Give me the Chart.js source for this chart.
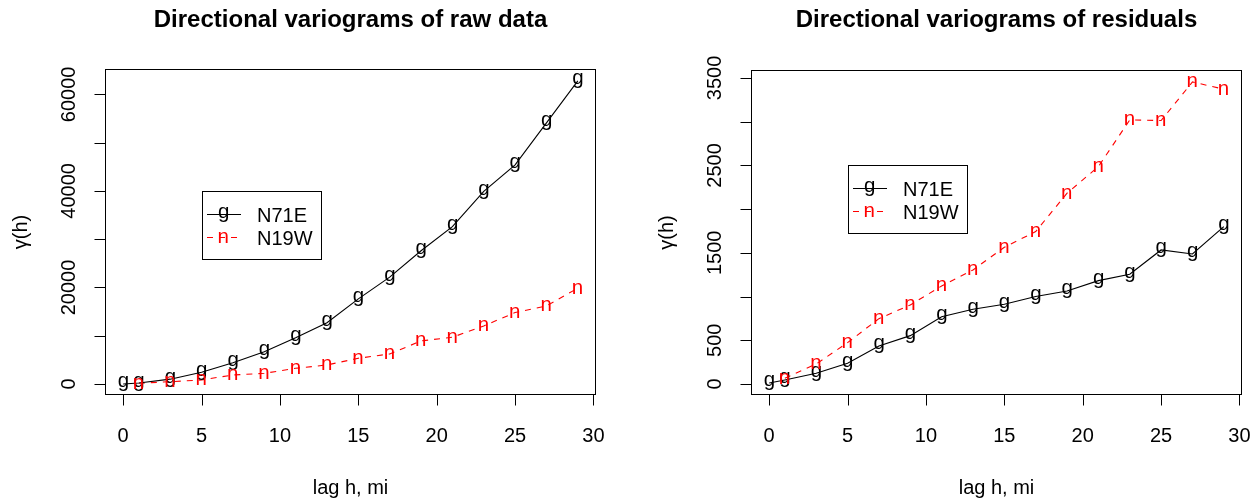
<!DOCTYPE html>
<html><head><meta charset="utf-8">
<script src="https://cdn.jsdelivr.net/npm/chart.js@4.4.0/dist/chart.umd.min.js"></script>
<style>
html,body{margin:0;padding:0;background:#fff;width:1257px;height:498px;overflow:hidden}
#l{position:absolute;left:0;top:0}
#r{position:absolute;left:628px;top:0}
</style></head><body>
<canvas id="l" width="628" height="498"></canvas>
<canvas id="r" width="629" height="498"></canvas>
<script>
// ---- data ----
const lagsN71E = [0,1,3,5,7,9,11,13,15,17,19,21,23,25,27,29];
const lagsN19W = [1,3,5,7,9,11,13,15,17,19,21,23,25,27,29];
const rawN71E = [0,200,1000,2430,4420,6700,9600,12700,17640,22130,27600,32600,39900,45400,54100,62800];
const rawN19W = [150,480,830,1870,2210,3250,3940,5330,6220,8920,9680,12030,14800,16180,19850];
const resN71E = [12,46,122,237,435,553,770,855,912,1000,1064,1182,1255,1533,1487,1800];
const resN19W = [65,229,473,747,904,1121,1304,1564,1743,2182,2486,3020,3013,3454,3372];
const seriesNames = ['N71E','N19W'];
const seriesSymbols = ['g','n'];
const xTicks = [0,5,10,15,20,25,30];
const xTickLabels = ['0','5','10','15','20','25','30'];
const rawYTicks = [0,10000,20000,30000,40000,50000,60000];
const rawYLabels = [0,20000,40000,60000];
const resYTicks = [0,500,1000,1500,2000,2500,3000,3500];
const resYLabels = [0,500,1500,2500,3500];
const rawLegendAt = [5,40000];
const resLegendAt = [5,2500];
const titles = ['Directional variograms of raw data','Directional variograms of residuals'];
const xTitle = 'lag h, mi';
const yTitle = '\u03B3(h)';

const FONT = '"Liberation Sans", Arial, Helvetica, sans-serif';
const COLORS = ['#000000','#ff0000'];
const GLYPH_FONT = '20.5px ' + FONT;

function drawGlyph(ctx, ch, color, x, y) {
  ctx.save();
  ctx.font = GLYPH_FONT;
  ctx.fillStyle = color;
  ctx.textAlign = 'left'; ctx.textBaseline = 'alphabetic';
  const m = ctx.measureText(ch);
  const L = m.actualBoundingBoxLeft, R = m.actualBoundingBoxRight;
  const A = m.actualBoundingBoxAscent, D = m.actualBoundingBoxDescent;
  ctx.fillText(ch, x - (R - L)/2, y + (A - D)/2);
  ctx.restore();
}

const rAxes = {
  id: 'rAxes',
  afterDatasetsDraw(chart) {
    const ctx = chart.ctx;
    chart.data.datasets.forEach((ds, i) => {
      chart.getDatasetMeta(i).data.forEach(el => drawGlyph(ctx, seriesSymbols[i], COLORS[i], el.x, el.y));
    });
  },
  afterDraw(chart, args, o) {
    const ctx = chart.ctx, a = chart.chartArea, xs = chart.scales.x, ys = chart.scales.y;
    ctx.save();
    ctx.strokeStyle = '#000'; ctx.fillStyle = '#000'; ctx.lineWidth = 1;
    const L = Math.round(a.left) + 0.5, R = Math.round(a.right) - 0.5;
    const T = Math.round(a.top) + 0.5, B = Math.round(a.bottom) - 0.5;
    ctx.strokeRect(L, T, R - L, B - T);
    const TL = 11;
    ctx.beginPath();
    o.xTicks.forEach(v => { const p = Math.round(xs.getPixelForValue(v)) + 0.5; ctx.moveTo(p, B); ctx.lineTo(p, B + TL); });
    o.yTicks.forEach(v => { const p = Math.round(ys.getPixelForValue(v)) + 0.5; ctx.moveTo(L, p); ctx.lineTo(L - TL, p); });
    ctx.stroke();
    ctx.font = '20px ' + FONT;
    ctx.textAlign = 'center'; ctx.textBaseline = 'alphabetic';
    o.xTicks.forEach((v, i) => ctx.fillText(o.xLabels[i], xs.getPixelForValue(v), a.bottom + 47));
    o.yLabels.forEach(v => {
      ctx.save(); ctx.translate(a.left - 30.5, ys.getPixelForValue(v)); ctx.rotate(-Math.PI/2);
      ctx.fillText(String(v), 0, 0); ctx.restore();
    });
    // axis titles
    const cx = (a.left + a.right)/2, cy = (a.top + a.bottom)/2;
    ctx.fillText(xTitle, cx, 494);
    ctx.save(); ctx.translate(a.left - 78, cy); ctx.rotate(-Math.PI/2); ctx.fillText(yTitle, 0, 0); ctx.restore();
    // main title
    ctx.font = 'bold 24px ' + FONT;
    ctx.fillText(o.title, cx, 27);
    // legend
    const bx = Math.round(xs.getPixelForValue(o.legendAt[0])) + 0.5;
    const by = Math.round(ys.getPixelForValue(o.legendAt[1])) + 0.5;
    ctx.strokeStyle = '#000';
    ctx.strokeRect(bx, by, 119, 68);
    seriesNames.forEach((name, i) => {
      const ey = Math.round(by + 22.5 + i*23) + 0.5;
      ctx.save();
      ctx.strokeStyle = COLORS[i];
      ctx.setLineDash(i === 0 ? [] : [6,6]);
      ctx.beginPath(); ctx.moveTo(bx + 4.5, ey); ctx.lineTo(bx + 38.5, ey); ctx.stroke();
      ctx.restore();
      drawGlyph(ctx, seriesSymbols[i], COLORS[i], bx + 21, ey);
      ctx.font = '20px ' + FONT; ctx.textAlign = 'left';
      ctx.fillStyle = '#000';
      ctx.fillText(name, bx + 54.5, ey + 7);
    });
    ctx.restore();
  }
};

function pts(xsArr, ysArr){ return xsArr.map((x, i) => ({x: x, y: ysArr[i]})); }

function makeChart(id, g, n, ymin, ymax, pad, o) {
  return new Chart(document.getElementById(id), {
    type: 'line',
    data: { datasets: [
      { label: seriesNames[0], data: pts(lagsN71E, g), borderColor: COLORS[0], borderWidth: 1.1,
        pointRadius: 0, tension: 0, fill: false },
      { label: seriesNames[1], data: pts(lagsN19W, n), borderColor: COLORS[1], borderWidth: 1.1,
        borderDash: [6,6], pointRadius: 0, tension: 0, fill: false }
    ]},
    options: {
      responsive: false, animation: false, events: [],
      layout: { padding: pad },
      scales: {
        x: { type: 'linear', min: -1.16, max: 30.16, display: false },
        y: { type: 'linear', min: ymin, max: ymax, display: false }
      },
      plugins: { legend: { display: false }, tooltip: { enabled: false }, rAxes: o }
    },
    plugins: [rAxes]
  });
}

makeChart('l', rawN71E, rawN19W, -2281, 65264, {left:105, right:32, top:69, bottom:103},
  { xTicks: xTicks, xLabels: xTickLabels, yTicks: rawYTicks, yLabels: rawYLabels, legendAt: rawLegendAt, title: titles[0] });
makeChart('r', resN71E, resN19W, -126, 3591, {left:123, right:15, top:70, bottom:103},
  { xTicks: xTicks, xLabels: xTickLabels, yTicks: resYTicks, yLabels: resYLabels, legendAt: resLegendAt, title: titles[1] });
</script>
</body></html>
